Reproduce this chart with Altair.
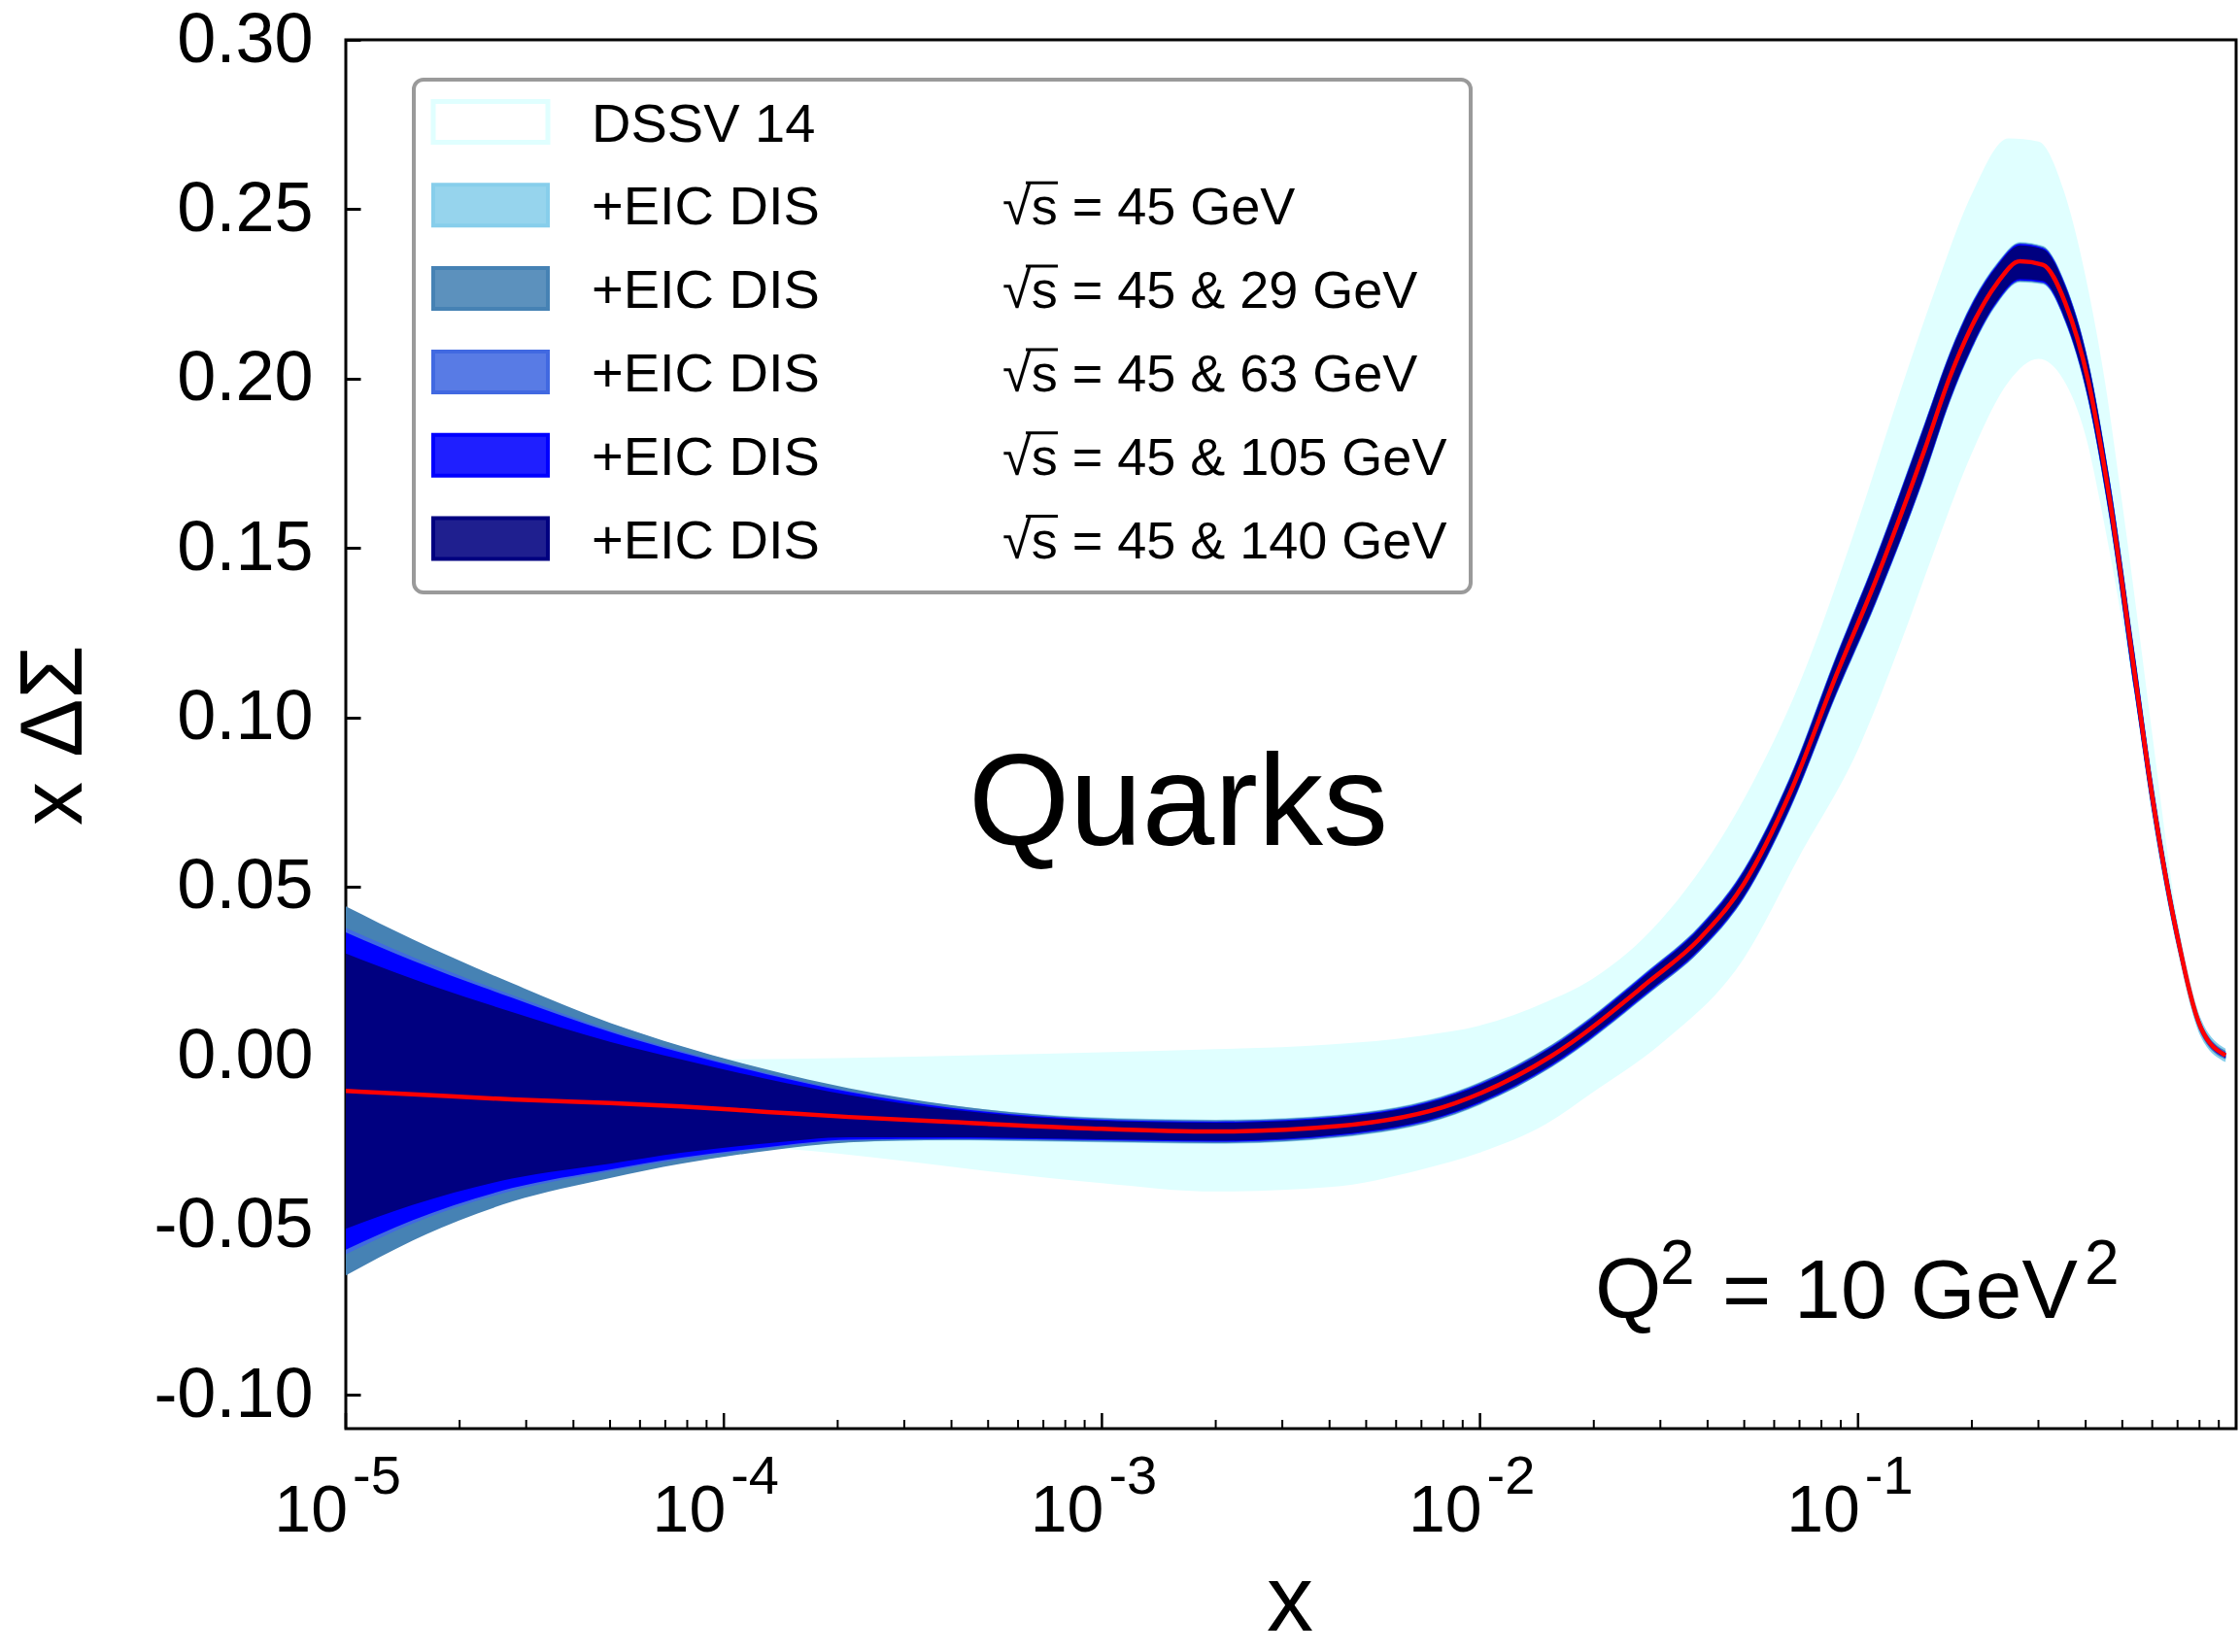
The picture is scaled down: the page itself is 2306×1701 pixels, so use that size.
import altair as alt
import pandas as pd

FONT = "Liberation Sans, Arial, Helvetica, sans-serif"

# ---------------- data ----------------
X_EIC = [1e-5, 1.5e-5, 2.75e-5, 5e-5, 7.7e-5, 1.3e-4, 2.14e-4, 4e-4, 9e-4,
         2e-3, 4.2e-3, 8.6e-3, 1.55e-2, 2.8e-2, 3.8e-2, 5e-2, 6.6e-2, 8.8e-2, 0.111, 0.15, 0.175, 0.2,
         0.233, 0.268, 0.308, 0.353, 0.406, 0.461, 0.539, 0.6, 0.7, 0.807, 0.938]

CENTRAL = [-0.0103, -0.0113, -0.0128, -0.0139, -0.0149, -0.0165, -0.0180, -0.0195, -0.0213,
           -0.0223, -0.0207, -0.0139, 0.0001, 0.0220, 0.0345, 0.0510, 0.0775, 0.1130, 0.1400, 0.1790, 0.2005, 0.2155,
           0.2281, 0.2346, 0.2336, 0.2224, 0.1995, 0.1656, 0.1130, 0.0767, 0.0351, 0.0083, 0.0002]

NAVY_HI = [0.0303, 0.0228, 0.0130, 0.0042, -0.0010, -0.0068, -0.0115, -0.0158, -0.0189,
           -0.0197, -0.0182, -0.0114, 0.0026, 0.0247, 0.0375, 0.0545, 0.0815, 0.1180, 0.1460, 0.1860, 0.2070, 0.2215,
           0.2331, 0.2393, 0.2382, 0.2272, 0.2045, 0.1706, 0.1180, 0.0807, 0.0376, 0.0093, 0.0008]
NAVY_LO = [-0.0510, -0.0440, -0.0362, -0.0318, -0.0286, -0.0258, -0.0240, -0.0240, -0.0245,
           -0.0250, -0.0232, -0.0164, -0.0024, 0.0193, 0.0315, 0.0475, 0.0735, 0.1080, 0.1340, 0.1720, 0.1940, 0.2095,
           0.2229, 0.2294, 0.2288, 0.2176, 0.1945, 0.1606, 0.1080, 0.0727, 0.0326, 0.0073, -0.0004]

BLUE_HI = [0.0365, 0.0282, 0.0172, 0.0071, 0.0010, -0.0054, -0.0106, -0.0153, -0.0186,
           -0.0194, -0.0179, -0.0111, 0.0029, 0.0251, 0.0379, 0.0549, 0.0819, 0.1184, 0.1464, 0.1864, 0.2074, 0.2219,
           0.2335, 0.2397, 0.2386, 0.2276, 0.2049, 0.1710, 0.1184, 0.0811, 0.0379, 0.0096, 0.0010]
BLUE_LO = [-0.0572, -0.0485, -0.0390, -0.0335, -0.0300, -0.0269, -0.0247, -0.0244, -0.0248,
           -0.0253, -0.0235, -0.0167, -0.0028, 0.0189, 0.0311, 0.0471, 0.0731, 0.1076, 0.1336, 0.1716, 0.1936, 0.2091,
           0.2225, 0.2290, 0.2284, 0.2172, 0.1941, 0.1602, 0.1076, 0.0723, 0.0323, 0.0070, -0.0006]

ROYAL_HI = [0.0378, 0.0293, 0.0180, 0.0077, 0.0015, -0.0050, -0.0103, -0.0151, -0.0184,
            -0.0192, -0.0177, -0.0109, 0.0031, 0.0253, 0.0381, 0.0551, 0.0821, 0.1186, 0.1466, 0.1866, 0.2076, 0.2221,
            0.2337, 0.2399, 0.2388, 0.2278, 0.2051, 0.1712, 0.1186, 0.0813, 0.0381, 0.0098, 0.0011]
ROYAL_LO = [-0.0585, -0.0495, -0.0398, -0.0340, -0.0305, -0.0273, -0.0250, -0.0246, -0.0250,
            -0.0255, -0.0237, -0.0169, -0.0030, 0.0187, 0.0309, 0.0469, 0.0729, 0.1074, 0.1334, 0.1714, 0.1934, 0.2089,
            0.2223, 0.2288, 0.2282, 0.2170, 0.1939, 0.1600, 0.1074, 0.0721, 0.0321, 0.0068, -0.0007]

STEEL_HI = [0.0442, 0.0345, 0.0215, 0.0098, 0.0030, -0.0040, -0.0095, -0.0145, -0.0182,
            -0.0190, -0.0175, -0.0107, 0.0033, 0.0254, 0.0382, 0.0552, 0.0822, 0.1187, 0.1467, 0.1867, 0.2077, 0.2222,
            0.2338, 0.2400, 0.2389, 0.2279, 0.2052, 0.1713, 0.1187, 0.0814, 0.0383, 0.0100, 0.0015]
STEEL_LO = [-0.0648, -0.0545, -0.0430, -0.0360, -0.0318, -0.0280, -0.0255, -0.0248, -0.0252,
            -0.0257, -0.0239, -0.0171, -0.0031, 0.0186, 0.0308, 0.0468, 0.0728, 0.1073, 0.1333, 0.1713, 0.1933, 0.2088,
            0.2222, 0.2287, 0.2281, 0.2169, 0.1938, 0.1599, 0.1073, 0.0720, 0.0319, 0.0065, -0.0010]

SKY_HI = [0.0440, 0.0343, 0.0213, 0.0096, 0.0028, -0.0042, -0.0097, -0.0146, -0.0180,
          -0.0188, -0.0173, -0.0105, 0.0035, 0.0256, 0.0384, 0.0554, 0.0825, 0.1190, 0.1470, 0.1870, 0.2080, 0.2225,
          0.2341, 0.2403, 0.2392, 0.2282, 0.2056, 0.1718, 0.1192, 0.0820, 0.0390, 0.0110, 0.0022]
SKY_LO = [-0.0645, -0.0542, -0.0428, -0.0358, -0.0316, -0.0278, -0.0254, -0.0249, -0.0254,
          -0.0259, -0.0241, -0.0173, -0.0033, 0.0184, 0.0306, 0.0466, 0.0725, 0.1070, 0.1330, 0.1710, 0.1930, 0.2085,
          0.2219, 0.2284, 0.2278, 0.2166, 0.1934, 0.1594, 0.1068, 0.0714, 0.0312, 0.0056, -0.0018]

X_DSSV = [1e-5, 3e-5, 1e-4, 2e-4, 5e-4, 1e-3, 2e-3, 4e-3, 7e-3, 1e-2,
          1.5e-2, 2e-2, 3e-2, 5e-2, 7e-2, 0.1, 0.13, 0.16, 0.2, 0.25,
          0.3, 0.35, 0.4, 0.45, 0.5, 0.55, 0.6, 0.7, 0.8, 0.94]
DSSV_HI = [-0.0020, -0.0015, -0.0010, -0.0006, 0.0003, 0.0011, 0.0020, 0.0034, 0.0060, 0.0090,
           0.0160, 0.0230, 0.0400, 0.0760, 0.1100, 0.1580, 0.1970, 0.2263, 0.2545, 0.2709,
           0.2700, 0.2555, 0.2300, 0.1990, 0.1630, 0.1280, 0.0950, 0.0400, 0.0110, 0.0015]
DSSV_LO = [-0.0200, -0.0220, -0.0260, -0.0288, -0.0340, -0.0375, -0.0400, -0.0387, -0.0335, -0.0285,
           -0.0200, -0.0105, 0.0035, 0.0290, 0.0590, 0.0905, 0.1223, 0.1500, 0.1780, 0.1990,
           0.2058, 0.1995, 0.1830, 0.1560, 0.1280, 0.1000, 0.0700, 0.0325, 0.0075, -0.0012]

Y_TICKS = [-0.10, -0.05, 0.0, 0.05, 0.10, 0.15, 0.20, 0.25, 0.30]
X_DECADES = [1e-5, 1e-4, 1e-3, 1e-2, 1e-1]
X_BASE = ["10", "10", "10", "10", "10"]
X_EXP = ["-5", "-4", "-3", "-2", "-1"]
MINOR_MULT = [2, 3, 4, 5, 6, 7, 8, 9]

LEGEND_NAMES = ["DSSV 14", "+EIC DIS", "+EIC DIS", "+EIC DIS", "+EIC DIS", "+EIC DIS"]
LEGEND_ENERGY = ["", "\u221as = 45 GeV", "\u221as = 45 & 29 GeV", "\u221as = 45 & 63 GeV",
                 "\u221as = 45 & 105 GeV", "\u221as = 45 & 140 GeV"]
BAND_COLORS = ["#E0FFFF", "#87CEEB", "#4682B4", "#4169E1", "#0000FF", "#000080"]

# ---------------- layout ----------------
W, H = 1946, 1430
xscale = alt.Scale(type="log", domain=[1e-5, 1.0], nice=False)
yscale = alt.Scale(domain=[-0.11, 0.30], nice=False, zero=False)

yaxis = alt.Axis(values=Y_TICKS, title=None, grid=False, domain=False, ticks=True,
                 tickSize=15, tickWidth=3, tickColor="black", offset=-15,
                 labelPadding=34, labelFontSize=72, labelFont=FONT, labelColor="black",
                 labelFlush=False, labelOverlap=False,
                 labelExpr="replace(format(datum.value, '.2f'), '\u2212', '-')")


def band(xs, lo, hi, color):
    df = pd.DataFrame({"x": xs, "lo": lo, "hi": hi})
    return alt.Chart(df).mark_area(color=color, opacity=1, clip=True, interpolate="monotone").encode(
        x=alt.X("x:Q", scale=xscale, axis=None),
        y=alt.Y("lo:Q", scale=yscale, axis=yaxis),
        y2="hi:Q",
    )


layers = [
    band(X_DSSV, DSSV_LO, DSSV_HI, BAND_COLORS[0]),
    band(X_EIC, SKY_LO, SKY_HI, BAND_COLORS[1]),
    band(X_EIC, STEEL_LO, STEEL_HI, BAND_COLORS[2]),
    band(X_EIC, ROYAL_LO, ROYAL_HI, BAND_COLORS[3]),
    band(X_EIC, BLUE_LO, BLUE_HI, BAND_COLORS[4]),
    band(X_EIC, NAVY_LO, NAVY_HI, BAND_COLORS[5]),
]

central_df = pd.DataFrame({"x": X_EIC, "lo": CENTRAL})
layers.append(
    alt.Chart(central_df).mark_line(color="#FF0000", strokeWidth=4.5, interpolate="monotone", clip=True).encode(
        x=alt.X("x:Q", scale=xscale, axis=None),
        y=alt.Y("lo:Q", scale=yscale, axis=yaxis),
    )
)

# x ticks (inward) : majors and minors
minor_df = pd.DataFrame({"x": [m * d for d in X_DECADES for m in MINOR_MULT]})
layers.append(
    alt.Chart(minor_df).mark_rule(color="black", strokeWidth=2).encode(
        x=alt.X("x:Q", scale=xscale, axis=None), y=alt.value(H - 9), y2=alt.value(H))
)
dec_df = pd.DataFrame({"x": X_DECADES, "base": X_BASE, "exp": X_EXP})
layers.append(
    alt.Chart(dec_df).mark_rule(color="black", strokeWidth=2.5).encode(
        x=alt.X("x:Q", scale=xscale, axis=None), y=alt.value(H - 16), y2=alt.value(H))
)
layers.append(
    alt.Chart(dec_df).mark_text(align="right", baseline="alphabetic", fontSize=68, font=FONT,
                                color="black", dx=2).encode(
        x=alt.X("x:Q", scale=xscale, axis=None), y=alt.value(1536), text="base:N")
)
layers.append(
    alt.Chart(dec_df).mark_text(align="left", baseline="alphabetic", fontSize=56, font=FONT,
                                color="black", dx=7).encode(
        x=alt.X("x:Q", scale=xscale, axis=None), y=alt.value(1497), text="exp:N")
)

# legend box
one = pd.DataFrame({"t": [""]})
layers.append(
    alt.Chart(one).mark_rect(fill="white", stroke="#9a9a9a", strokeWidth=4, cornerRadius=10).encode(
        x=alt.value(70), x2=alt.value(1158), y=alt.value(41), y2=alt.value(569))
)
ROW0, STEP = 84.5, 85.8
for i, (name, energy, col) in enumerate(zip(LEGEND_NAMES, LEGEND_ENERGY, BAND_COLORS)):
    cy = ROW0 + i * STEP
    if i == 0:
        sw = alt.Chart(one).mark_rect(fill="white", stroke=col, strokeWidth=5)
    else:
        sw = alt.Chart(one).mark_rect(fill=col, fillOpacity=0.88, stroke=col, strokeWidth=4)
    layers.append(sw.encode(x=alt.value(90), x2=alt.value(208), y=alt.value(cy - 21), y2=alt.value(cy + 21)))
    layers.append(
        alt.Chart(pd.DataFrame({"t": [name]})).mark_text(
            align="left", baseline="alphabetic", fontSize=56, font=FONT, color="black").encode(
            x=alt.value(253), y=alt.value(cy + 20), text="t:N")
    )
    if energy:
        layers.append(
            alt.Chart(pd.DataFrame({"t": [energy]})).mark_text(
                align="left", baseline="alphabetic", fontSize=54, font=FONT, color="black").encode(
                x=alt.value(676), y=alt.value(cy + 20), text="t:N")
        )
        # overline of the square root over "s"
        layers.append(
            alt.Chart(one).mark_rule(color="black", strokeWidth=3).encode(
                x=alt.value(700), x2=alt.value(733), y=alt.value(cy - 23))
        )

# annotations
layers.append(
    alt.Chart(pd.DataFrame({"t": ["Quarks"]})).mark_text(
        align="center", baseline="alphabetic", fontSize=134, font=FONT, color="black").encode(
        x=alt.value(857), y=alt.value(829), text="t:N")
)
Q_PIECES = [("Q", 1286, 1316, 88), ("2", 1353, 1281, 64), ("= 10 GeV", 1417, 1316, 86), ("2", 1790, 1281, 64)]
for txt, px, py, fs in Q_PIECES:
    layers.append(
        alt.Chart(pd.DataFrame({"t": [txt]})).mark_text(
            align="left", baseline="alphabetic", fontSize=fs, font=FONT, color="black").encode(
            x=alt.value(px), y=alt.value(py), text="t:N")
    )
layers.append(
    alt.Chart(pd.DataFrame({"t": ["x"]})).mark_text(
        align="center", baseline="alphabetic", fontSize=96, font=FONT, color="black").encode(
        x=alt.value(972), y=alt.value(1638), text="t:N")
)
layers.append(
    alt.Chart(pd.DataFrame({"t": ["x \u0394\u03a3"]})).mark_text(
        align="center", baseline="alphabetic", angle=270, fontSize=90, font=FONT, color="black").encode(
        x=alt.value(-272), y=alt.value(716), text="t:N")
)

chart = alt.layer(*layers).properties(
    width=W, height=H,
    autosize=alt.AutoSizeParams(type="none"),
    padding={"left": 356, "top": 41, "right": 4, "bottom": 230},
    background="white",
).configure(font=FONT).configure_view(stroke="black", strokeWidth=3)

chart.save("out.html", embed_options={"renderer": "svg", "actions": False})
